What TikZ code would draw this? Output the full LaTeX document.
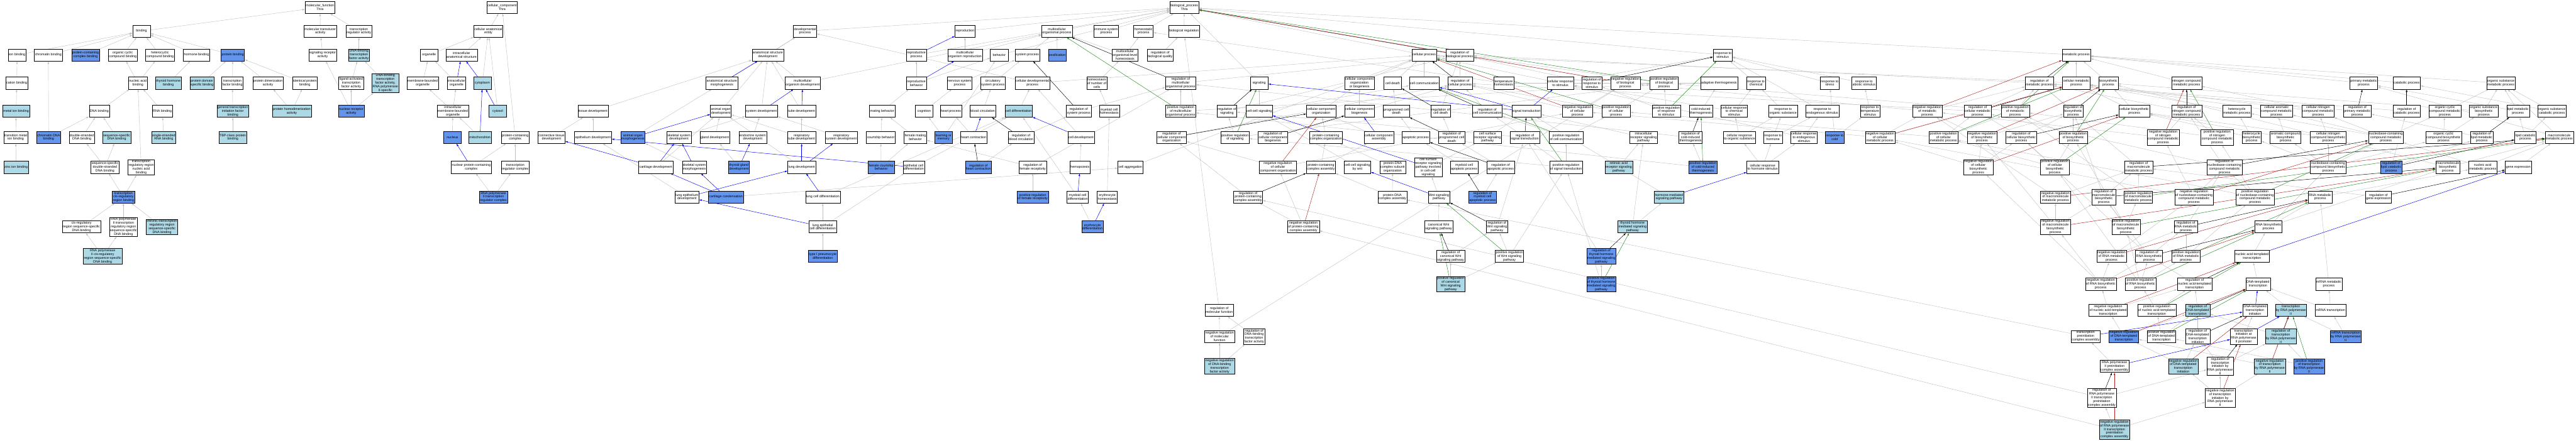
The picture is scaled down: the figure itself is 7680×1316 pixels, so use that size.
\documentclass[tikz,border=0pt]{standalone}
\usepackage{fontspec}
\setmainfont{Liberation Sans}
\usetikzlibrary{arrows.meta,backgrounds}
\definecolor{termblue}{HTML}{ADD8E6}
\definecolor{termcorn}{HTML}{6495ED}
\definecolor{negred}{HTML}{B22222}
\definecolor{posgreen}{HTML}{228B22}
\tikzset{
  term/.style={draw, line width=0.8pt, fill=white, align=center, inner sep=2pt,
    minimum width=53pt, minimum height=36pt, font=\fontsize{10}{11}\selectfont},
  termlb/.style={term, fill=termblue},
  termcf/.style={term, fill=termcorn},
  isa/.style={black!25, line width=0.8pt, -{Latex[length=8pt,width=5pt]}},
  partof/.style={blue, line width=0.9pt, -{Latex[length=8pt,width=5pt]}},
  regs/.style={black, line width=0.9pt, -{Latex[length=8pt,width=5pt]}},
  negreg/.style={negred, line width=0.9pt, -{Latex[length=8pt,width=5pt]}},
  posreg/.style={posgreen, line width=0.9pt, -{Latex[length=8pt,width=5pt]}}
}

\begin{document}
\begin{tikzpicture}[x=1pt, y=-1pt]
        \useasboundingbox (0,0) rectangle (7680,1316);
        % ==== MOLECULAR FUNCTION ====
        \node[term] (mf) at (954,22) {molecular\_function\\Thra};
        \node[term] (bind) at (422,93) {binding};
        \node[term] (mtrans) at (955,93) {molecular transducer\\activity};
        \node[term] (tfreg) at (1070,93) {transcription\\regulator activity};
        \node[term] (ionb) at (51,164) {ion binding};
        \node[term] (chromb) at (144,164) {chromatin binding};
        \node[termcf] (pccb) at (255,164) {protein-containing\\complex binding};
        \node[term] (occb) at (366,164) {organic cyclic\\compound binding};
        \node[term] (hcb) at (477,164) {heterocyclic\\compound binding};
        \node[term] (hormb) at (586,164) {hormone binding};
        \node[termcf] (protb) at (694,164) {protein binding};
        \node[term] (sigrec) at (962,164) {signaling receptor\\activity};
        \node[termlb] (dbtf) at (1070,164) {DNA-binding\\transcription\\factor activity};
        \node[term] (catb) at (50,248) {cation binding};
        \node[term] (nab) at (411,248) {nucleic acid\\binding};
        \node[termlb] (thb) at (502,248) {thyroid hormone\\binding};
        \node[termlb] (pdsb) at (602,248) {protein domain\\specific binding};
        \node[term] (tfb) at (693,248) {transcription\\factor binding};
        \node[term] (pdim) at (799,248) {protein dimerization\\activity};
        \node[term] (idpb) at (909,248) {identical protein\\binding};
        \node[term] (latf) at (1047,248) {ligand-activated\\transcription\\factor activity};
        \node[termlb] (dbtf2) at (1149,248) {DNA-binding\\transcription\\factor activity,\\RNA polymerase\\II-specific};
        \node[termlb] (metb) at (48,332) {metal ion binding};
        \node[term] (dnab) at (296,332) {DNA binding};
        \node[term] (rnab) at (484,332) {RNA binding};
        \node[termlb] (gtifb) at (694,332) {general transcription\\initiation factor\\binding};
        \node[termlb] (phda) at (870,332) {protein homodimerization\\activity};
        \node[termcf] (nra) at (1047,332) {nuclear receptor\\activity};
        \node[term] (tmib) at (47,410) {transition metal\\ion binding};
        \node[termcf] (cdnab) at (145,410) {chromatin DNA\\binding};
        \node[term] (dsdb) at (244,410) {double-stranded\\DNA binding};
        \node[termlb] (ssdb) at (348,410) {sequence-specific\\DNA binding};
        \node[termlb] (ssrb) at (488,410) {single-stranded\\RNA binding};
        \node[termlb] (tbpb) at (694,410) {TBP-class protein\\binding};
        \node[termlb] (znb) at (48,499) {zinc ion binding};
        \node[term] (ssdsb) at (313,499) {sequence-specific\\double-stranded\\DNA binding};
        \node[term] (trrnab) at (421,499) {transcription\\regulatory region\\nucleic acid\\binding};
        \node[termcf] (tcrb) at (368,588) {transcription\\cis-regulatory\\region binding};
        \node[term] (crssb) at (243,677) {cis-regulatory\\region sequence-specific\\DNA binding};
        \node[term] (p2trr) at (368,677) {RNA polymerase\\II transcription\\regulatory region\\sequence-specific\\DNA binding};
        \node[termlb] (intr) at (483,677) {intronic transcription\\regulatory region\\sequence-specific\\DNA binding};
        \node[termlb] (p2crs) at (306,765) {RNA polymerase\\II cis-regulatory\\region sequence-specific\\DNA binding};

        % ==== CELLULAR COMPONENT ====
        \node[term] (cc) at (1497,22) {cellular\_component\\Thra};
        \node[term] (cae) at (1456,93) {cellular anatomical\\entity};
        \node[term] (org) at (1279,164) {organelle};
        \node[term] (ias) at (1376,164) {intracellular\\anatomical structure};
        \node[term] (mbo) at (1260,248) {membrane-bounded\\organelle};
        \node[term] (io) at (1361,248) {intracellular\\organelle};
        \node[termlb] (cyto) at (1438,248) {cytoplasm};
        \node[term] (imbo) at (1350,332) {intracellular\\membrane-bounded\\organelle};
        \node[termlb] (cytosol) at (1484,332) {cytosol};
        \node[termcf] (nuc) at (1349,410) {nucleus};
        \node[termlb] (mito) at (1431,410) {mitochondrion};
        \node[term] (pcc) at (1536,410) {protein-containing\\complex};
        \node[term] (npcc) at (1405,499) {nuclear protein-containing\\complex};
        \node[term] (trc) at (1536,499) {transcription\\regulator complex};
        \node[termcf] (p2trc) at (1471,588) {RNA polymerase\\II transcription\\regulator complex};

        % ==== DEVELOPMENT ====
        \node[term] (dev) at (2400,93) {developmental\\process};
        \node[term] (asd) at (2289,164) {anatomical structure\\development};
        \node[term] (asm) at (2152,248) {anatomical structure\\morphogenesis};
        \node[term] (mod) at (2393,248) {multicellular\\organism development};
        \node[term] (tisd) at (1768,332) {tissue development};
        \node[term] (aod) at (2149,332) {animal organ\\development};
        \node[term] (sysd) at (2270,332) {system development};
        \node[term] (tubd) at (2390,332) {tube development};
        \node[term] (ctd) at (1644,410) {connective tissue\\development};
        \node[term] (epd) at (1768,410) {epithelium development};
        \node[termcf] (aom) at (1887,410) {animal organ\\morphogenesis};
        \node[term] (ssd) at (2024,410) {skeletal system\\development};
        \node[term] (gld) at (2131,410) {gland development};
        \node[term] (esd) at (2244,410) {endocrine system\\development};
        \node[term] (rtd) at (2390,410) {respiratory\\tube development};
        \node[term] (rsd) at (2508,410) {respiratory\\system development};
        \node[term] (cartd) at (1955,499) {cartilage development};
        \node[term] (ssm) at (2070,499) {skeletal system\\morphogenesis};
        \node[termcf] (tgd) at (2203,499) {thyroid gland\\development};
        \node[term] (lungd) at (2390,499) {lung development};
        \node[term] (led) at (2048,588) {lung epithelium\\development};
        \node[termcf] (cartc) at (2164,588) {cartilage condensation};
        \node[term] (lcd) at (2453,588) {lung cell differentiation};
        \node[term] (lecd) at (2453,677) {lung epithelial\\cell differentiation};
        \node[termcf] (t1pd) at (2453,765) {type I pneumocyte\\differentiation};

        % ==== BIOLOGICAL PROCESS ====
        \node[term] (bp) at (3531,22) {biological\_process\\Thra};
        \node[term] (repro) at (2877,93) {reproduction};
        \node[term] (mop) at (3151,93) {multicellular\\organismal process};
        \node[term] (isp) at (3298,93) {immune system\\process};
        \node[term] (homp) at (3409,93) {homeostatic\\process};
        \node[term] (breg) at (3530,93) {biological regulation};
        \node[term] (rp) at (2732,164) {reproductive\\process};
        \node[term] (mor) at (2877,164) {multicellular\\organism reproduction};
        \node[term] (behav) at (2979,164) {behavior};
        \node[term] (sysp) at (3063,164) {system process};
        \node[termcf] (ossif) at (3152,164) {ossification};
        \node[term] (molh) at (3354,164) {multicellular\\organismal-level\\homeostasis};
        \node[term] (rbq) at (3459,164) {regulation of\\biological quality};
        \node[term] (rbeh) at (2732,248) {reproductive\\behavior};
        \node[term] (nsp) at (2861,248) {nervous system\\process};
        \node[term] (csp) at (2960,248) {circulatory\\system process};
        \node[term] (cdp) at (3078,248) {cellular developmental\\process};
        \node[term] (hnc) at (3270,248) {homeostasis\\of number of\\cells};
        \node[term] (rmop) at (3520,248) {regulation of\\multicellular\\organismal process};
        \node[term] (sig) at (3754,248) {signaling};
        \node[term] (mateb) at (2630,332) {mating behavior};
        \node[term] (cogn) at (2755,332) {cognition};
        \node[term] (heartp) at (2835,332) {heart process};
        \node[term] (bloodc) at (2930,332) {blood circulation};
        \node[termlb] (celld) at (3037,332) {cell differentiation};
        \node[term] (rsysp) at (3216,332) {regulation of\\system process};
        \node[term] (mch) at (3307,332) {myeloid cell\\homeostasis};
        \node[term] (prmop) at (3520,332) {positive regulation\\of multicellular\\organismal process};
        \node[term] (rsig) at (3658,332) {regulation of\\signaling};
        \node[term] (ccsig) at (3754,332) {cell-cell signaling};
        \node[term] (courtb) at (2626,410) {courtship behavior};
        \node[term] (fmb) at (2729,410) {female mating\\behavior};
        \node[termcf] (lom) at (2813,410) {learning or\\memory};
        \node[term] (heartc) at (2903,410) {heart contraction};
        \node[term] (rbc) at (3044,410) {regulation of\\blood circulation};
        \node[term] (celldev) at (3223,410) {cell development};
        \node[term] (rcco) at (3493,410) {regulation of\\cellular component\\organization};
        \node[term] (prsig) at (3682,410) {positive regulation\\of signaling};
        \node[term] (rccb) at (3795,410) {regulation of\\cellular component\\biogenesis};
        \node[termcf] (fcb) at (2627,499) {female courtship\\behavior};
        \node[term] (ecd) at (2724,499) {epithelial cell\\differentiation};
        \node[termcf] (rhc) at (2917,499) {regulation of\\heart contraction};
        \node[term] (rfr) at (3079,499) {regulation of\\female receptivity};
        \node[term] (hemo) at (3220,499) {hemopoiesis};
        \node[term] (cagg) at (3370,499) {cell aggregation};
        \node[term] (nrcco) at (3810,499) {negative regulation\\of cellular\\component organization};
        \node[termcf] (prfr) at (3079,588) {positive regulation\\of female receptivity};
        \node[term] (mcd) at (3213,588) {myeloid cell\\differentiation};
        \node[term] (eryh) at (3301,588) {erythrocyte\\homeostasis};
        \node[term] (rpcca) at (3721,588) {regulation of\\protein-containing\\complex assembly};
        \node[termcf] (eryd) at (3257,677) {erythrocyte\\differentiation};
        \node[term] (nrpcca) at (3886,677) {negative regulation\\of protein-containing\\complex assembly};
        \node[term] (rmf) at (3635,926) {regulation of\\molecular function};
        \node[term] (nrmf) at (3636,1004) {negative regulation\\of molecular\\function};
        \node[term] (rdbtf) at (3739,1004) {regulation of\\DNA-binding\\transcription\\factor activity};
        \node[termlb] (nrdbtf) at (3636,1093) {negative regulation\\of DNA-binding\\transcription\\factor activity};

        % ==== CELLULAR PROCESS AND SIGNALING ====
        \node[term] (cp) at (4246,164) {cellular process};
        \node[term] (rbp) at (4352,164) {regulation of\\biological process};
        \node[term] (rstim) at (5136,164) {response to\\stimulus};
        \node[term] (ccob) at (4053,248) {cellular component\\organization\\or biogenesis};
        \node[term] (cdeath) at (4152,248) {cell death};
        \node[term] (ccomm) at (4246,248) {cell communication};
        \node[term] (rcp) at (4353,248) {regulation of\\cellular process};
        \node[term] (temph) at (4483,248) {temperature\\homeostasis};
        \node[term] (crs) at (4652,248) {cellular response\\to stimulus};
        \node[term] (rrs) at (4746,248) {regulation of\\response to\\stimulus};
        \node[term] (nrbp) at (4846,248) {negative regulation\\of biological\\process};
        \node[term] (prbp) at (4961,248) {positive regulation\\of biological\\process};
        \node[term] (adth) at (5125,248) {adaptive thermogenesis};
        \node[term] (cco) at (3939,332) {cellular component\\organization};
        \node[term] (ccb) at (4053,332) {cellular component\\biogenesis};
        \node[term] (pcd) at (4163,332) {programmed cell\\death};
        \node[term] (rcd) at (4295,332) {regulation of\\cell death};
        \node[term] (rcc) at (4434,332) {regulation of\\cell communication};
        \node[term] (st) at (4551,332) {signal transduction};
        \node[term] (nrcp) at (4703,332) {negative regulation\\of cellular\\process};
        \node[term] (prcp) at (4818,332) {positive regulation\\of cellular\\process};
        \node[term] (prrs) at (4968,332) {positive regulation\\of response\\to stimulus};
        \node[term] (cith) at (5071,332) {cold-induced\\thermogenesis};
        \node[term] (pcco) at (3953,410) {protein-containing\\complex organization};
        \node[term] (cca) at (4111,410) {cellular component\\assembly};
        \node[term] (apop) at (4221,410) {apoptotic process};
        \node[term] (rpcd) at (4328,410) {regulation of\\programmed cell\\death};
        \node[term] (csrsp) at (4435,410) {cell surface\\receptor signaling\\pathway};
        \node[term] (rst) at (4546,410) {regulation of\\signal transduction};
        \node[term] (prcc) at (4669,410) {positive regulation\\of cell communication};
        \node[term] (irsp) at (4900,410) {intracellular\\receptor signaling\\pathway};
        \node[term] (rcith) at (5040,410) {regulation of\\cold-induced\\thermogenesis};
        \node[term] (pcca) at (3938,499) {protein-containing\\complex assembly};
        \node[term] (ccwnt) at (4047,499) {cell-cell signaling\\by wnt};
        \node[term] (pdcso) at (4152,499) {protein-DNA\\complex subunit\\organization};
        \node[term] (csrccs) at (4258,499) {cell surface\\receptor signaling\\pathway involved\\in cell-cell\\signaling};
        \node[term] (mcap) at (4365,499) {myeloid cell\\apoptotic process};
        \node[term] (rap) at (4474,499) {regulation of\\apoptotic process};
        \node[term] (prst) at (4669,499) {positive regulation\\of signal transduction};
        \node[termlb] (rarsp) at (4826,499) {retinoic acid\\receptor signaling\\pathway};
        \node[termcf] (prcith) at (5077,499) {positive regulation\\of cold-induced\\thermogenesis};
        \node[term] (pdca) at (4151,588) {protein-DNA\\complex assembly};
        \node[term] (wnt) at (4290,588) {Wnt signaling\\pathway};
        \node[termcf] (rmcap) at (4420,588) {regulation of\\myeloid cell\\apoptotic process};
        \node[termlb] (hmsp) at (4976,588) {hormone-mediated\\signaling pathway};
        \node[term] (cwnt) at (4289,677) {canonical Wnt\\signaling pathway};
        \node[term] (rwnt) at (4463,677) {regulation of\\Wnt signaling\\pathway};
        \node[termlb] (thsp) at (4867,677) {thyroid hormone\\mediated signaling\\pathway};
        \node[term] (rcwnt) at (4325,765) {regulation of\\canonical Wnt\\signaling pathway};
        \node[term] (prwnt) at (4500,765) {positive regulation\\of Wnt signaling\\pathway};
        \node[termcf] (rthsp) at (4774,765) {regulation of\\thyroid hormone\\mediated signaling\\pathway};
        \node[termlb] (prcwnt) at (4325,848) {positive regulation\\of canonical\\Wnt signaling\\pathway};
        \node[termcf] (prthsp) at (4774,848) {positive regulation\\of thyroid hormone\\mediated signaling\\pathway};

        % ==== RESPONSE AND METABOLISM ====
        \node[term] (metp) at (6190,164) {metabolic process};
        \node[term] (rchem) at (5235,248) {response to\\chemical};
        \node[term] (rstress) at (5455,248) {response to\\stress};
        \node[term] (rabio) at (5557,248) {response to\\abiotic stimulus};
        \node[term] (rmp) at (6080,248) {regulation of\\metabolic process};
        \node[term] (cmp) at (6190,248) {cellular metabolic\\process};
        \node[term] (bsp) at (6286,248) {biosynthetic\\process};
        \node[term] (crchem) at (5170,332) {cellular response\\to chemical\\stimulus};
        \node[term] (ros) at (5316,332) {response to\\organic substance};
        \node[term] (res) at (5433,332) {response to\\endogenous stimulus};
        \node[term] (rtemp) at (5575,332) {response to\\temperature\\stimulus};
        \node[term] (nrmp) at (5746,332) {negative regulation\\of metabolic\\process};
        \node[term] (rcmp) at (5896,332) {regulation of\\cellular metabolic\\process};
        \node[term] (prmp) at (6008,332) {positive regulation\\of metabolic\\process};
        \node[term] (rbsp) at (6181,332) {regulation of\\biosynthetic\\process};
        \node[term] (cbsp) at (6363,332) {cellular biosynthetic\\process};
        \node[term] (cros) at (5186,410) {cellular response\\to organic substance};
        \node[term] (rhorm) at (5286,410) {response to\\hormone};
        \node[term] (cres) at (5378,410) {cellular response\\to endogenous\\stimulus};
        \node[termcf] (rcold) at (5470,410) {response to\\cold};
        \node[term] (nrcmp) at (5605,410) {negative regulation\\of cellular\\metabolic process};
        \node[term] (prcmp) at (5794,410) {positive regulation\\of cellular\\metabolic process};
        \node[term] (nrbsp) at (5909,410) {negative regulation\\of biosynthetic\\process};
        \node[term] (rcbsp) at (6026,410) {regulation of\\cellular biosynthetic\\process};
        \node[term] (prbsp) at (6181,410) {positive regulation\\of biosynthetic\\process};
        \node[term] (nrncmp) at (6449,410) {negative regulation\\of nitrogen\\compound metabolic\\process};
        \node[term] (crhs) at (5255,499) {cellular response\\to hormone stimulus};
        \node[term] (nrcbsp) at (5898,499) {negative regulation\\of cellular\\biosynthetic\\process};
        \node[term] (prcbsp) at (6126,499) {positive regulation\\of cellular\\biosynthetic\\process};
        \node[term] (rmmp) at (6376,499) {regulation of\\macromolecule\\metabolic process};
        \node[term] (nrmmp) at (6128,588) {negative regulation\\of macromolecule\\metabolic process};
        \node[term] (rmbp) at (6272,588) {regulation of\\macromolecule\\biosynthetic\\process};
        \node[term] (prmmp) at (6375,588) {positive regulation\\of macromolecule\\metabolic process};
        \node[term] (nrmbp) at (6128,677) {negative regulation\\of macromolecule\\biosynthetic\\process};
        \node[term] (prmbp) at (6338,677) {positive regulation\\of macromolecule\\biosynthetic\\process};
        \node[term] (nrrmp) at (6295,765) {negative regulation\\of RNA metabolic\\process};
        \node[term] (rrbp) at (6407,765) {regulation of\\RNA biosynthetic\\process};
        \node[term] (nrrbp) at (6263,848) {negative regulation\\of RNA biosynthetic\\process};
        \node[term] (prrbp) at (6381,848) {positive regulation\\of RNA biosynthetic\\process};
        \node[term] (nrnat) at (6285,926) {negative regulation\\of nucleic acid-templated\\transcription};
        \node[term] (prnat) at (6430,926) {positive regulation\\of nucleic acid-templated\\transcription};
        \node[term] (tpca) at (6218,1004) {transcription\\preinitiation\\complex assembly};
        \node[termcf] (nrdt) at (6332,1004) {negative regulation\\of DNA-templated\\transcription};
        \node[term] (prdt) at (6444,1004) {positive regulation\\of DNA-templated\\transcription};
        \node[term] (p2pca) at (6304,1093) {RNA polymerase\\II preinitiation\\complex assembly};
        \node[term] (rp2pca) at (6266,1187) {regulation of\\RNA polymerase\\II transcription\\preinitiation\\complex assembly};
        \node[termlb] (nrp2pca) at (6304,1282) {negative regulation\\of RNA polymerase\\II transcription\\preinitiation\\complex assembly};
        \node[term] (ncmp) at (6519,248) {nitrogen compound\\metabolic process};
        \node[term] (pmp) at (7047,248) {primary metabolic\\process};
        \node[term] (catp) at (7175,248) {catabolic process};
        \node[term] (osmp) at (7456,248) {organic substance\\metabolic process};
        \node[term] (rncmp) at (6519,332) {regulation of\\nitrogen compound\\metabolic process};
        \node[term] (hmp) at (6669,332) {heterocycle\\metabolic process};
        \node[term] (camp) at (6787,332) {cellular aromatic\\compound metabolic\\process};
        \node[term] (cncmp) at (6911,332) {cellular nitrogen\\compound metabolic\\process};
        \node[term] (rpmp) at (7028,332) {regulation of\\primary metabolic\\process};
        \node[term] (rcatp) at (7175,332) {regulation of\\catabolic process};
        \node[term] (occmp) at (7289,332) {organic cyclic\\compound metabolic\\process};
        \node[term] (osbp) at (7405,332) {organic substance\\biosynthetic\\process};
        \node[term] (lmp) at (7507,332) {lipid metabolic\\process};
        \node[term] (oscp) at (7608,332) {organic substance\\catabolic process};
        \node[term] (prncmp) at (6610,410) {positive regulation\\of nitrogen\\compound metabolic\\process};
        \node[term] (hbp) at (6713,410) {heterocycle\\biosynthetic\\process};
        \node[term] (acbp) at (6814,410) {aromatic compound\\biosynthetic\\process};
        \node[term] (cncbp) at (6941,410) {cellular nitrogen\\compound biosynthetic\\process};
        \node[term] (nbmp) at (7113,410) {nucleobase-containing\\compound metabolic\\process};
        \node[term] (occbp) at (7285,410) {organic cyclic\\compound biosynthetic\\process};
        \node[term] (rlmp) at (7399,410) {regulation of\\lipid metabolic\\process};
        \node[term] (lcp) at (7529,410) {lipid catabolic\\process};
        \node[term] (mmp) at (7630,410) {macromolecule\\metabolic process};
        \node[term] (rnbmp) at (6632,499) {regulation of\\nucleobase-containing\\compound metabolic\\process};
        \node[term] (nbbp) at (6941,499) {nucleobase-containing\\compound biosynthetic\\process};
        \node[termcf] (rlcp) at (7129,499) {regulation of\\lipid catabolic\\process};
        \node[term] (mbp) at (7298,499) {macromolecule\\biosynthetic\\process};
        \node[term] (namp) at (7402,499) {nucleic acid\\metabolic process};
        \node[term] (gex) at (7508,499) {gene expression};
        \node[term] (nrnbmp) at (6541,588) {negative regulation\\of nucleobase-containing\\compound metabolic\\process};
        \node[term] (prnbmp) at (6723,588) {positive regulation\\of nucleobase-containing\\compound metabolic\\process};
        \node[term] (rnamp) at (6917,588) {RNA metabolic\\process};
        \node[term] (rgex) at (7091,588) {regulation of\\gene expression};
        \node[term] (rrmp) at (6517,677) {regulation of\\RNA metabolic\\process};
        \node[term] (rnabp) at (6763,677) {RNA biosynthetic\\process};
        \node[term] (prrmp) at (6517,765) {positive regulation\\of RNA metabolic\\process};
        \node[term] (nat) at (6714,765) {nucleic acid-templated\\transcription};
        \node[term] (rnat) at (6543,848) {regulation of\\nucleic acid-templated\\transcription};
        \node[term] (dt) at (6732,848) {DNA-templated\\transcription};
        \node[term] (mrmp) at (6943,848) {mRNA metabolic\\process};
        \node[termlb] (rdt) at (6552,926) {regulation of\\DNA-templated\\transcription};
        \node[term] (dti) at (6723,926) {DNA-templated\\transcription\\initiation};
        \node[termlb] (tr2) at (6830,926) {transcription\\by RNA polymerase\\II};
        \node[term] (mrt) at (6948,926) {mRNA transcription};
        \node[term] (rdti) at (6552,1004) {regulation of\\DNA-templated\\transcription\\initiation};
        \node[term] (tip2) at (6689,1004) {transcription\\initiation at\\RNA polymerase\\II promoter};
        \node[termlb] (rtr2) at (6800,1004) {regulation of\\transcription\\by RNA polymerase\\II};
        \node[termcf] (mrt2) at (6993,1004) {mRNA transcription\\by RNA polymerase\\II};
        \node[termlb] (nrdti) at (6509,1093) {negative regulation\\of DNA-templated\\transcription\\initiation};
        \node[term] (rti2) at (6619,1093) {regulation of\\transcription\\initiation by\\RNA polymerase\\II};
        \node[termlb] (nrtr2) at (6767,1093) {negative regulation\\of transcription\\by RNA polymerase\\II};
        \node[termcf] (prtr2) at (6884,1093) {positive regulation\\of transcription\\by RNA polymerase\\II};
        \node[term] (nrti2) at (6619,1187) {negative regulation\\of transcription\\initiation by\\RNA polymerase\\II};

        \begin{scope}[on background layer]
        % ==== IS_A EDGES ====
        \foreach \c/\p in {bind/mf, mtrans/mf, tfreg/mf, ionb/bind, chromb/bind, pccb/bind, occb/bind,
            hcb/bind, hormb/bind, protb/bind, sigrec/mtrans, dbtf/tfreg, catb/ionb, nab/occb, nab/hcb,
            thb/hormb, pdsb/protb, tfb/protb, pdim/protb, idpb/protb, latf/dbtf, dbtf2/dbtf, metb/catb,
            dnab/nab, rnab/nab, gtifb/tfb, phda/pdim, phda/idpb, nra/sigrec, nra/latf, nra/dbtf2,
            tmib/metb, cdnab/chromb, cdnab/dnab, dsdb/dnab, ssdb/dnab, ssrb/rnab, tbpb/gtifb, znb/tmib,
            ssdsb/dsdb, ssdsb/ssdb, trrnab/nab, tcrb/ssdsb, tcrb/trrnab, crssb/tcrb, p2trr/tcrb,
            intr/tcrb, p2crs/crssb, p2crs/p2trr}
            \draw[isa] (\c) -- (\p);
        \foreach \c/\p in {cae/cc, pcc/cc, org/cae, ias/cae, mbo/org, io/org, cyto/cae, imbo/mbo,
            imbo/io, cytosol/cae, nuc/imbo, mito/imbo, npcc/pcc, trc/pcc, p2trc/npcc, p2trc/trc}
            \draw[isa] (\c) -- (\p);
        \foreach \c/\p in {dev/bp, asd/dev, asm/dev, mod/asd, mod/mop, tisd/asd, aod/asd, sysd/asd,
            tubd/asd, ctd/tisd, epd/tisd, aom/asm, ssd/sysd, gld/aod, esd/sysd, rtd/tubd, rtd/aod,
            rsd/sysd, cartd/aod, ssm/aom, tgd/gld, lungd/aod, led/epd, cartc/cagg, lcd/celld,
            lecd/lcd, lecd/ecd, t1pd/lecd}
            \draw[isa] (\c) -- (\p);
        \foreach \c/\p in {repro/bp, mop/bp, isp/bp, homp/bp, breg/bp, cp/bp, rstim/bp, metp/bp,
            rp/bp, behav/bp, sig/bp, mor/repro, mor/mop, sysp/mop, ossif/mop, molh/mop, molh/homp,
            rbq/breg, rbeh/rp, rbeh/behav, nsp/sysp, csp/sysp, cdp/dev, cdp/cp, hnc/molh, rmop/rbp,
            mateb/rbeh, cogn/nsp, heartp/csp, bloodc/csp, celld/cdp, rsysp/rmop, mch/hnc, prmop/rmop,
            prmop/prbp, rsig/rbp, ccsig/sig, ccsig/ccomm, courtb/mateb, fmb/mateb, lom/cogn,
            lom/behav, heartc/heartp, rbc/rsysp, celldev/cdp, rcco/rcp, prsig/rsig, prsig/prbp,
            rccb/rcp, fcb/courtb, fcb/fmb, ecd/celld, rhc/rbc, rfr/fmb, rfr/rmop, hemo/celldev,
            cagg/cp, nrcco/rcco, nrcco/nrcp, prfr/rfr, mcd/celld, eryh/mch, rpcca/rcco, eryd/mcd,
            rmf/breg, nrmf/rmf, nrmf/nrbp, rdbtf/rmf, nrdbtf/nrmf, nrdbtf/rdbtf, nrpcca/rpcca,
            nrpcca/nrcco}
            \draw[isa] (\c) -- (\p);
        \foreach \c/\p in {ccob/cp, cdeath/cp, ccomm/cp, rcp/rbp, temph/homp, crs/rstim, crs/cp,
            rrs/rbp, nrbp/rbp, prbp/rbp, adth/temph, cco/ccob, ccb/ccob, pcd/cdeath, rcd/rbp,
            rcc/rcp, nrcp/rcp, nrcp/nrbp, prcp/rcp, prcp/prbp, prrs/rrs, prrs/prbp, cith/adth,
            pcco/cco, cca/cco, apop/pcd, rpcd/rcd, csrsp/st, rst/rsig, rst/rcc, prcc/rcc, prcc/prcp,
            irsp/st, rcith/rmop, pcca/pcco, pcca/cca, ccwnt/ccsig, pdcso/pcco, csrccs/csrsp,
            mcap/apop, rap/rpcd, prst/rst, prst/prsig, prst/prcc, rarsp/irsp, prcith/rcith,
            prcith/prmop, pdca/pdcso, pdca/pcca, wnt/csrccs, rmcap/rap, hmsp/st, cwnt/wnt, rwnt/rst,
            thsp/irsp, thsp/hmsp, rcwnt/rwnt, prwnt/rwnt, prwnt/prst, rthsp/rst, prcwnt/rcwnt,
            prcwnt/prwnt, prthsp/rthsp, prthsp/prst}
            \draw[isa] (\c) -- (\p);
        \foreach \c/\p in {rchem/rstim, rstress/rstim, rabio/rstim, rmp/rbp, cmp/metp, cmp/cp,
            bsp/metp, crchem/rchem, crchem/crs, ros/rchem, res/rstim, rtemp/rabio, nrmp/rmp,
            nrmp/nrbp, rcmp/rmp, rcmp/rcp, prmp/rmp, prmp/prbp, rbsp/rmp, cbsp/bsp, cbsp/cmp,
            cros/ros, cros/crchem, rhorm/ros, rhorm/res, cres/res, cres/crs, rcold/rtemp,
            rcold/rstress, nrcmp/rcmp, nrcmp/nrmp, nrcmp/nrcp, prcmp/rcmp, prcmp/prmp, prcmp/prcp,
            nrbsp/rbsp, nrbsp/nrmp, rcbsp/rbsp, rcbsp/rcmp, prbsp/rbsp, prbsp/prmp, crhs/rhorm,
            crhs/cros, crhs/cres, nrcbsp/nrbsp, nrcbsp/rcbsp, nrcbsp/nrcmp, prcbsp/prbsp,
            prcbsp/rcbsp, prcbsp/prcmp, rmmp/rmp, nrmmp/rmmp, nrmmp/nrmp, rmbp/rmmp, rmbp/rbsp,
            prmmp/rmmp, prmmp/prmp, nrmbp/rmbp, nrmbp/nrmmp, nrmbp/nrbsp, prmbp/rmbp, prmbp/prmmp,
            prmbp/prbsp, nrrmp/rrmp, nrrmp/nrnbmp, rrbp/rrmp, rrbp/rmbp, rrbp/rcbsp, nrrbp/rrbp,
            nrrbp/nrrmp, nrrbp/nrmbp, nrrbp/nrcbsp, prrbp/rrbp, prrbp/prrmp, prrbp/prmbp,
            prrbp/prcbsp, nrnat/nrrbp, nrnat/rnat, prnat/prrbp, prnat/rnat, tpca/pdca, nrdt/nrnat,
            nrdt/rdt, prdt/prnat, prdt/rdt, p2pca/tpca, rp2pca/rpcca, rp2pca/rti2, nrp2pca/rp2pca,
            nrp2pca/nrpcca, nrp2pca/nrti2}
            \draw[isa] (\c) -- (\p);
        \foreach \c/\p in {ncmp/metp, pmp/metp, catp/metp, osmp/metp, rncmp/rmp, hmp/cmp, camp/cmp,
            cncmp/ncmp, cncmp/cmp, rpmp/rmp, rcatp/rmp, occmp/osmp, osbp/osmp, osbp/bsp, lmp/osmp,
            lmp/pmp, oscp/osmp, oscp/catp, nrncmp/rncmp, nrncmp/nrmp, prncmp/rncmp, prncmp/prmp,
            hbp/hmp, hbp/cbsp, acbp/camp, acbp/cbsp, cncbp/cncmp, cncbp/cbsp, nbmp/hmp, nbmp/camp,
            nbmp/cncmp, nbmp/occmp, occbp/occmp, occbp/osbp, rlmp/rpmp, lcp/lmp, lcp/oscp,
            mmp/osmp, mmp/pmp, rnbmp/rncmp, rnbmp/rcmp, nbbp/nbmp, nbbp/hbp, nbbp/acbp,
            nbbp/cncbp, nbbp/occbp, rlcp/rlmp, rlcp/rcatp, mbp/mmp, mbp/bsp, namp/nbmp, namp/mmp,
            gex/mmp, nrnbmp/rnbmp, nrnbmp/nrncmp, nrnbmp/nrcmp, prnbmp/rnbmp, prnbmp/prncmp,
            prnbmp/prcmp, rnamp/namp, rgex/rmmp, rrmp/rnbmp, rnabp/rnamp, rnabp/nbbp, rnabp/mbp,
            prrmp/rrmp, prrmp/prnbmp, nat/rnabp, rnat/rrbp, dt/nat, mrmp/rnamp, rdt/rnat, tr2/dt,
            mrt/mrmp, mrt/dt, rdti/rdt, tip2/dti, rtr2/rdt, mrt2/mrt, mrt2/tr2, nrdti/rdti,
            nrdti/nrdt, rti2/rdti, rti2/rtr2, nrtr2/rtr2, nrtr2/nrdt, prtr2/rtr2, prtr2/prdt,
            nrti2/rti2, nrti2/nrdti, nrti2/nrtr2}
            \draw[isa] (\c) -- (\p);

        % ==== PART_OF EDGES ====
        \foreach \c/\p in {io/ias, cyto/ias, mito/cyto, cytosol/cyto, npcc/nuc, asm/asd, sysd/mod,
            tubd/mod, aom/aod, cartd/ctd, cartd/ssd, ssm/ssd, tgd/esd, lungd/rtd, lungd/rsd,
            led/lungd, cartc/cartd, cartc/ssm, lcd/lungd, lecd/led, ecd/epd, rp/repro, rbeh/mor,
            heartc/bloodc, celldev/celld, mcd/hemo, eryd/eryh, st/sig, csrccs/ccsig, st/ccomm,
            st/crs, cca/ccb, wnt/ccwnt, hmsp/crhs, tpca/dti, p2pca/tip2, nat/gex, dti/dt, tip2/tr2}
            \draw[partof] (\c) -- (\p);

        % ==== REGULATES EDGES ====
        \foreach \c/\p in {rbp/bp, rmop/mop, rsysp/sysp, rbc/bloodc, rhc/heartc, rsig/sig,
            rcco/cco, rccb/ccb, rpcca/pcca, rcp/cp, rcd/cdeath, rcc/ccomm, rpcd/pcd, rap/apop,
            rst/st, rrs/rstim, rcith/cith, rmcap/mcap, rwnt/wnt, rcwnt/cwnt, rthsp/thsp, rmp/metp,
            rcmp/cmp, rbsp/bsp, rcbsp/cbsp, rmmp/mmp, rmbp/mbp, rncmp/ncmp, rpmp/pmp, rcatp/catp,
            rlmp/lmp, rlcp/lcp, rnbmp/nbmp, rgex/gex, rrmp/rnamp, rrbp/rnabp, rnat/nat, rdt/dt,
            rdti/dti, rtr2/tr2, rti2/tip2, rp2pca/p2pca}
            \draw[regs] (\c) -- (\p);
        \foreach \c/\p in {nrbp/bp, nrcp/cp, nrcco/cco, nrpcca/pcca, nrmp/metp, nrcmp/cmp,
            nrbsp/bsp, nrcbsp/cbsp, nrmmp/mmp, nrmbp/mbp, nrncmp/ncmp, nrnbmp/nbmp, nrrmp/rnamp,
            nrrbp/rnabp, nrnat/nat, nrdt/dt, nrdti/dti, nrtr2/tr2, nrti2/tip2, nrp2pca/p2pca}
            \draw[negreg] (\c) -- (\p);
        \foreach \c/\p in {prbp/bp, prmop/mop, prsig/sig, prcp/cp, prcc/ccomm, prst/st, prrs/rstim,
            prcith/cith, prwnt/wnt, prcwnt/cwnt, prthsp/thsp, prmp/metp, prcmp/cmp, prbsp/bsp,
            prcbsp/cbsp, prmmp/mmp, prmbp/mbp, prncmp/ncmp, prnbmp/nbmp, prrmp/rnamp, prrbp/rnabp,
            prnat/nat, prdt/dt, prtr2/tr2}
            \draw[posreg] (\c) -- (\p);
        \end{scope}
\end{tikzpicture}
\end{document}
